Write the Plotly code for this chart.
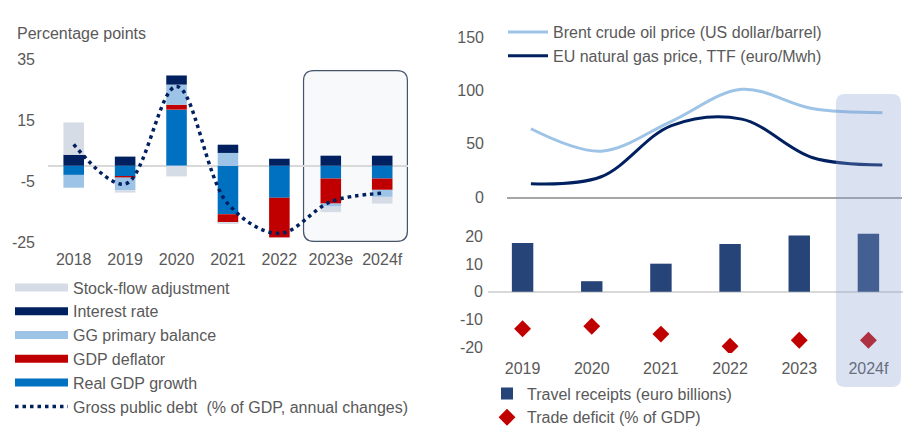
import plotly.graph_objects as go

# ---------------- data ----------------
years_left = ["2018", "2019", "2020", "2021", "2022", "2023e", "2024f"]
stock_flow = [10.6, -0.8, -3.5, -0.3, 0.0, -1.8, -2.2]
interest_rate = [3.6, 3.0, 3.0, 2.7, 2.3, 3.3, 3.3]
gg_primary = [-4.2, -4.2, 6.6, 4.2, 0.0, -1.0, -2.3]
gdp_deflator = [0.0, -0.3, 1.6, -2.7, -13.0, -8.2, -3.7]
real_gdp = [-3.0, -3.5, 18.4, -15.9, -10.5, -4.2, -4.2]
gross_debt = [7.0, -6.0, 26.0, -12.5, -22.2, -11.8, -9.0]
left_ticks = [-25, -5, 15, 35]
left_tick_text = ["-25", "-5", "15", "35"]

years_right = ["2019", "2020", "2021", "2022", "2023", "2024f"]
brent = [64, 43, 71, 101, 83, 79]
gas_ttf = [12.5, 19, 67, 73, 37, 30]
travel = [17.5, 3.8, 10.1, 17.2, 20.2, 20.9]
trade_deficit = [-13.3, -12.4, -15.2, -19.6, -17.4, -17.4]
top_ticks = [0, 50, 100, 150]
bottom_ticks = [-20, -10, 0, 10, 20]
bottom_tick_text = ["-20", "-10", "0", "10", "20"]

# ---------------- style ----------------
W, H = 915, 435
FONT = "Arial, Liberation Sans, sans-serif"
TXT = "#595959"
C_SF = "#d6dce5"
C_INT = "#002060"
C_GG = "#9dc3e6"
C_DEFL = "#c00000"
C_REAL = "#0070c0"
C_TRAVEL = "#264478"


def px_x(p):
    return p / W


def px_y(p):
    return 1 - p / H


fig = go.Figure()

# left: stacked bars (stacking order)
stack = [
    ("Real GDP growth", real_gdp, C_REAL, 5),
    ("GDP deflator", gdp_deflator, C_DEFL, 4),
    ("GG primary balance", gg_primary, C_GG, 3),
    ("Interest rate", interest_rate, C_INT, 2),
    ("Stock-flow adjustment", stock_flow, C_SF, 1),
]
for name, vals, col, rank in stack:
    fig.add_trace(go.Bar(
        x=years_left, y=vals, name=name, width=0.4,
        marker=dict(color=col, line=dict(width=0)),
        showlegend=False, xaxis="x", yaxis="y", hoverinfo="skip"))
for name, vals, col, rank in stack:
    fig.add_trace(go.Scatter(
        x=[None], y=[None], mode="lines", name=name,
        line=dict(color=col, width=8), legend="legend", legendrank=rank,
        xaxis="x", yaxis="y"))

fig.add_trace(go.Scatter(
    x=years_left, y=gross_debt, mode="lines",
    name="Gross public debt  (% of GDP, annual changes)",
    line=dict(color=C_INT, width=3.5, dash="3.5px,4px", shape="spline", smoothing=1),
    legend="legend", legendrank=6, xaxis="x", yaxis="y"))

# right top: lines
fig.add_trace(go.Scatter(
    x=years_right, y=brent, mode="lines", name="Brent crude oil price (US dollar/barrel)",
    line=dict(color=C_GG, width=3, shape="spline", smoothing=1),
    legend="legend2", legendrank=1, xaxis="x2", yaxis="y2"))
fig.add_trace(go.Scatter(
    x=years_right, y=gas_ttf, mode="lines", name="EU natural gas price, TTF (euro/Mwh)",
    line=dict(color=C_INT, width=3, shape="spline", smoothing=1),
    legend="legend2", legendrank=2, xaxis="x2", yaxis="y2"))

# right bottom
fig.add_trace(go.Bar(
    x=years_right, y=travel, name="Travel receipts (euro billions)", width=0.31,
    marker=dict(color=C_TRAVEL, line=dict(width=0)),
    legend="legend3", legendrank=1, xaxis="x3", yaxis="y3"))
fig.add_trace(go.Scatter(
    x=years_right, y=trade_deficit, mode="markers", name="Trade deficit (% of GDP)",
    marker=dict(symbol="diamond", size=13, color=C_DEFL, line=dict(width=0)),
    legend="legend3", legendrank=2, xaxis="x3", yaxis="y3"))

# ---------------- shapes ----------------
x0, x1, y0, y1 = 4.47, 6.49, -24.8, 31.2
rx, ry = 0.2, 3.3
path_left = (f"M {x0+rx},{y1} L {x1-rx},{y1} Q {x1},{y1} {x1},{y1-ry} "
             f"L {x1},{y0+ry} Q {x1},{y0} {x1-rx},{y0} L {x0+rx},{y0} "
             f"Q {x0},{y0} {x0},{y0+ry} L {x0},{y1-ry} Q {x0},{y1} {x0+rx},{y1} Z")
bx0, bx1 = 4.53, 5.47
by0, by1 = px_y(387), px_y(94)
brx, bry = 0.13, 9 / H
path_right = (f"M {bx0+brx},{by1} L {bx1-brx},{by1} Q {bx1},{by1} {bx1},{by1-bry} "
              f"L {bx1},{by0+bry} Q {bx1},{by0} {bx1-brx},{by0} L {bx0+brx},{by0} "
              f"Q {bx0},{by0} {bx0},{by0+bry} L {bx0},{by1-bry} Q {bx0},{by1} {bx0+brx},{by1} Z")

shapes = [
    dict(type="path", path=path_left, xref="x", yref="y", layer="below",
         fillcolor="#f8f9fb", line=dict(color="#44546a", width=1.2)),
    dict(type="path", path=path_right, xref="x3", yref="paper", layer="above",
         fillcolor="rgba(136,158,210,0.31)", line=dict(width=0)),
]

axis_font = dict(family=FONT, size=16, color=TXT)
leg_font = dict(family=FONT, size=16, color=TXT)

fig.update_layout(
    width=W, height=H,
    margin=dict(l=0, r=0, t=0, b=0, autoexpand=False),
    paper_bgcolor="white", plot_bgcolor="rgba(0,0,0,0)",
    font=dict(family=FONT, size=16, color=TXT),
    barmode="relative",
    showlegend=True,
    shapes=shapes,
    xaxis=dict(domain=[px_x(48), px_x(408)], type="category", anchor="y",
               showgrid=False, showline=False, ticks="", tickfont=axis_font,
               ticklabelstandoff=6, automargin=False),
    yaxis=dict(domain=[px_y(242), px_y(59)], range=[-25, 35], anchor="x",
               tickvals=left_ticks, ticktext=left_tick_text, showgrid=False,
               zeroline=True, zerolinecolor="#d9d9d9", zerolinewidth=2, ticks="",
               tickfont=axis_font, ticklabelstandoff=12, automargin=False),
    xaxis2=dict(domain=[px_x(507), px_x(902)], type="category", anchor="y2",
                range=[-0.34, 5.28], showticklabels=False, showgrid=False,
                showline=True, linecolor="#a6a6a6", linewidth=1.5, ticks="",
                automargin=False),
    yaxis2=dict(domain=[px_y(197), px_y(37)], range=[0, 150], anchor="x2",
                tickvals=top_ticks, showgrid=False, zeroline=False, ticks="",
                tickfont=axis_font, ticklabelstandoff=22, automargin=False),
    xaxis3=dict(domain=[px_x(488), px_x(903)], type="category", anchor="y3",
                showgrid=False, showline=False, ticks="", tickfont=axis_font,
                ticklabelstandoff=4, automargin=False),
    yaxis3=dict(domain=[px_y(353), px_y(225)], range=[-22, 24], anchor="x3",
                tickvals=bottom_ticks, ticktext=bottom_tick_text, showgrid=False,
                zeroline=True, zerolinecolor="#d9d9d9", zerolinewidth=2, ticks="",
                tickfont=axis_font, ticklabelstandoff=4, automargin=False),
    legend=dict(x=px_x(10), y=px_y(270.5), xanchor="left", yanchor="top",
                bgcolor="rgba(0,0,0,0)", font=leg_font,
                tracegroupgap=0, itemwidth=53, traceorder="normal"),
    legend2=dict(x=px_x(503), y=px_y(15), xanchor="left", yanchor="top",
                 bgcolor="rgba(0,0,0,0)", font=leg_font,
                 tracegroupgap=0, itemwidth=40, traceorder="normal"),
    legend3=dict(x=px_x(487), y=px_y(376.5), xanchor="left", yanchor="top",
                 bgcolor="rgba(0,0,0,0)", font=leg_font,
                 tracegroupgap=0, traceorder="normal"),
    annotations=[dict(text="Percentage points", x=px_x(15), y=px_y(34),
                      xref="paper", yref="paper", xanchor="left", yanchor="middle",
                      showarrow=False, font=dict(family=FONT, size=16, color=TXT))],
)

fig.write_html("out.html", config={"displayModeBar": False},
               post_script="document.body.style.margin='0';")
